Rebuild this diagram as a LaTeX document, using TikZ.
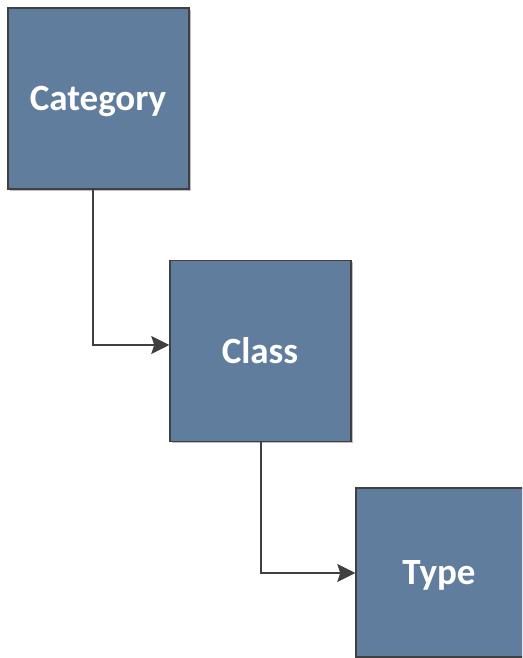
\documentclass[tikz,border=0pt]{standalone}
\usepackage{fontspec}
\setmainfont{Carlito}
\usetikzlibrary{arrows.meta,shadows}
\definecolor{boxfill}{RGB}{97,125,158}
\definecolor{boxline}{RGB}{64,64,64}
\definecolor{conn}{RGB}{64,64,64}
\tikzset{
  ent/.style={draw=boxline, line width=1.5pt, fill=boxfill, minimum width=181pt, minimum height=181pt,
    inner sep=0pt, text=white, font=\fontsize{37}{40}\selectfont\bfseries,
    drop shadow={shadow xshift=2pt, shadow yshift=-2pt, opacity=0.25, fill=black}},
  lbl/.style={text=white, font=\fontsize{37}{40}\selectfont\bfseries},
  link/.style={draw=conn, line width=1.4pt, -{Stealth[length=18pt,width=18pt,inset=3pt]}}
}
\begin{document}
\begin{tikzpicture}[x=1pt,y=1pt]
\useasboundingbox (0,0) rectangle (522,658);
\clip (0,0) rectangle (522,658);
\node[ent] (cat) at (98.5,559.5) {};
\node[lbl] (catl) at (98,556.5) {Category};
\node[ent] (cls) at (260.5,307) {};
\node[lbl] (clsl) at (260,307) {Class};
\node[ent, minimum height=169pt, minimum width=200pt] (typ) at (456,85.5) {};
\node[lbl] (typl) at (439,83) {Type};
\coordinate (c1) at (93,313);
\coordinate (c2) at (261,85);
\draw[link] (cat.south -| c1) |- (cls.west |- c1);
\draw[link] (cls.south -| c2) |- (typ.west |- c2);
\end{tikzpicture}
\end{document}
